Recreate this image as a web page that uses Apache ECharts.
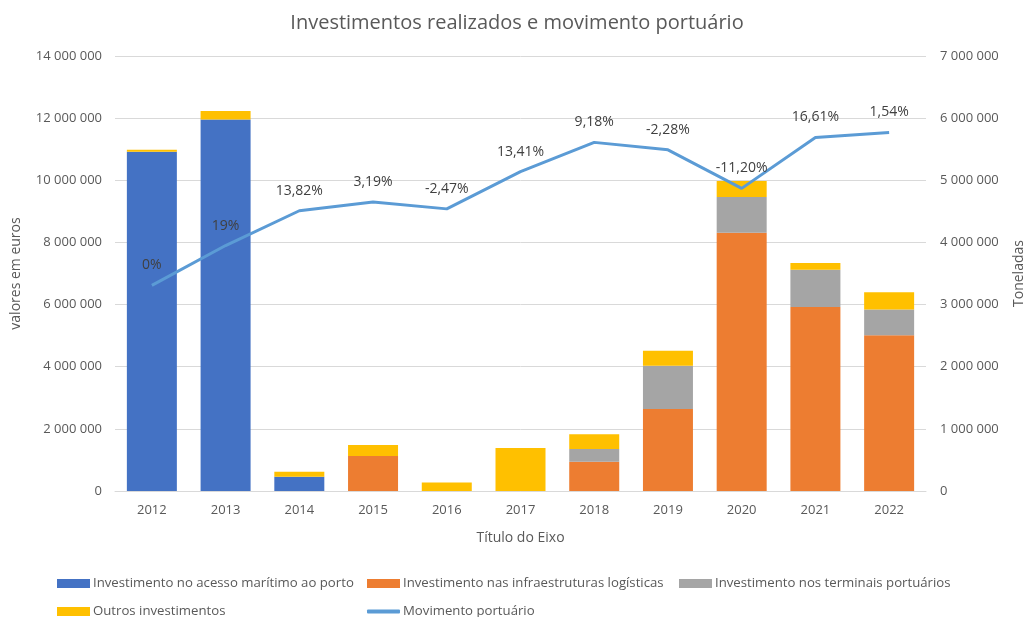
<!DOCTYPE html>
<html>
<head>
<meta charset="utf-8">
<script src="https://cdn.jsdelivr.net/npm/echarts@6/dist/echarts.min.js"></script>
<style>
  html, body { margin: 0; padding: 0; background: #fff; }
  #chart { width: 1034px; height: 617px; }
</style>
</head>
<body>
<div id="chart"></div>
<script>
// anos
var anos = ['2012', '2013', '2014', '2015', '2016', '2017', '2018', '2019', '2020', '2021', '2022'];
// investimentos (euros)
var acessoMaritimo = [10920000, 11960000, 460000, 0, 0, 0, 0, 0, 0, 0, 0];
var infraLogisticas = [0, 0, 0, 1130000, 0, 0, 940000, 2640000, 8310000, 5920000, 5010000];
var terminais = [0, 0, 0, 0, 0, 0, 410000, 1390000, 1150000, 1200000, 830000];
var outros = [60000, 270000, 160000, 350000, 270000, 1380000, 480000, 480000, 520000, 220000, 560000];
// movimento portuario (toneladas)
var movimento = [3310000, 3950000, 4510000, 4650000, 4540000, 5140000, 5610000, 5490000, 4870000, 5690000, 5770000];
var variacao = ['0%', '19%', '13,82%', '3,19%', '-2,47%', '13,41%', '9,18%', '-2,28%', '-11,20%', '16,61%', '1,54%'];

var cinza = '#595959';
var fonte = '"Open Sans", "Noto Sans", sans-serif';

function milhares(v) {
  return String(v).replace(/\B(?=(\d{3})+(?!\d))/g, ' ');
}

function legenda(nome, left, top, icon) {
  return {
    data: [{ name: nome, icon: icon || 'rect' }],
    left: left, top: top,
    itemWidth: 33, itemHeight: icon ? 4 : 9, itemGap: 0,
    padding: 0,
    textStyle: { color: cinza, fontSize: 13.2, fontFamily: fonte, padding: [0, 0, 0, -2] }
  };
}

var myChart = echarts.init(document.getElementById('chart'));
var option = {
  animation: false,
  title: {
    text: 'Investimentos realizados e movimento portuário',
    left: 'center', top: 8,
    textStyle: { color: cinza, fontSize: 20, fontWeight: 'normal', fontFamily: fonte }
  },
  legend: [
    legenda('Investimento no acesso marítimo ao porto', 57, 577),
    legenda('Investimento nas infraestruturas logísticas', 367, 577),
    legenda('Investimento nos terminais portuários', 679, 577),
    legenda('Outros investimentos', 57, 605),
    legenda('Movimento portuário', 367, 605, 'roundRect')
  ],
  grid: { left: 115, right: 100, top: 56, bottom: 126 },
  xAxis: {
    type: 'category',
    data: anos,
    name: 'Título do Eixo',
    nameLocation: 'middle',
    nameGap: 40,
    nameTextStyle: { color: cinza, fontSize: 14, fontFamily: fonte },
    axisLine: { lineStyle: { color: '#d9d9d9' } },
    axisTick: { show: false },
    axisLabel: { color: cinza, fontSize: 13, fontFamily: fonte, margin: 13 }
  },
  yAxis: [
    {
      type: 'value', min: 0, max: 14000000, interval: 2000000,
      name: 'valores em euros',
      nameLocation: 'middle', nameRotate: 90, nameGap: 92,
      nameTextStyle: { color: cinza, fontSize: 14, fontFamily: fonte },
      axisLabel: { color: cinza, fontSize: 13, fontFamily: fonte, margin: 13, formatter: milhares },
      splitLine: { lineStyle: { color: '#d9d9d9' } }
    },
    {
      type: 'value', min: 0, max: 7000000, interval: 1000000,
      name: 'Toneladas',
      nameLocation: 'middle', nameRotate: 90, nameGap: 86,
      nameTextStyle: { color: cinza, fontSize: 14, fontFamily: fonte },
      axisLabel: { color: cinza, fontSize: 13, fontFamily: fonte, margin: 14, formatter: milhares },
      splitLine: { show: false }
    }
  ],
  series: [
    { name: 'Investimento no acesso marítimo ao porto', type: 'bar', stack: 'inv', barWidth: 50, data: acessoMaritimo, itemStyle: { color: '#4472C4' } },
    { name: 'Investimento nas infraestruturas logísticas', type: 'bar', stack: 'inv', data: infraLogisticas, itemStyle: { color: '#ED7D31' } },
    { name: 'Investimento nos terminais portuários', type: 'bar', stack: 'inv', data: terminais, itemStyle: { color: '#A5A5A5' } },
    { name: 'Outros investimentos', type: 'bar', stack: 'inv', data: outros, itemStyle: { color: '#FFC000' } },
    {
      name: 'Movimento portuário', type: 'line', yAxisIndex: 1, data: movimento,
      showSymbol: true, symbol: 'circle', symbolSize: 0,
      lineStyle: { color: '#5B9BD5', width: 3 },
      itemStyle: { color: '#5B9BD5' },
      label: {
        show: true, position: 'top', distance: 13,
        color: '#404040', fontSize: 14, fontFamily: fonte,
        formatter: function (p) { return variacao[p.dataIndex]; }
      },
      z: 5
    }
  ]
};
option && myChart.setOption(option);
</script>
</body>
</html>
